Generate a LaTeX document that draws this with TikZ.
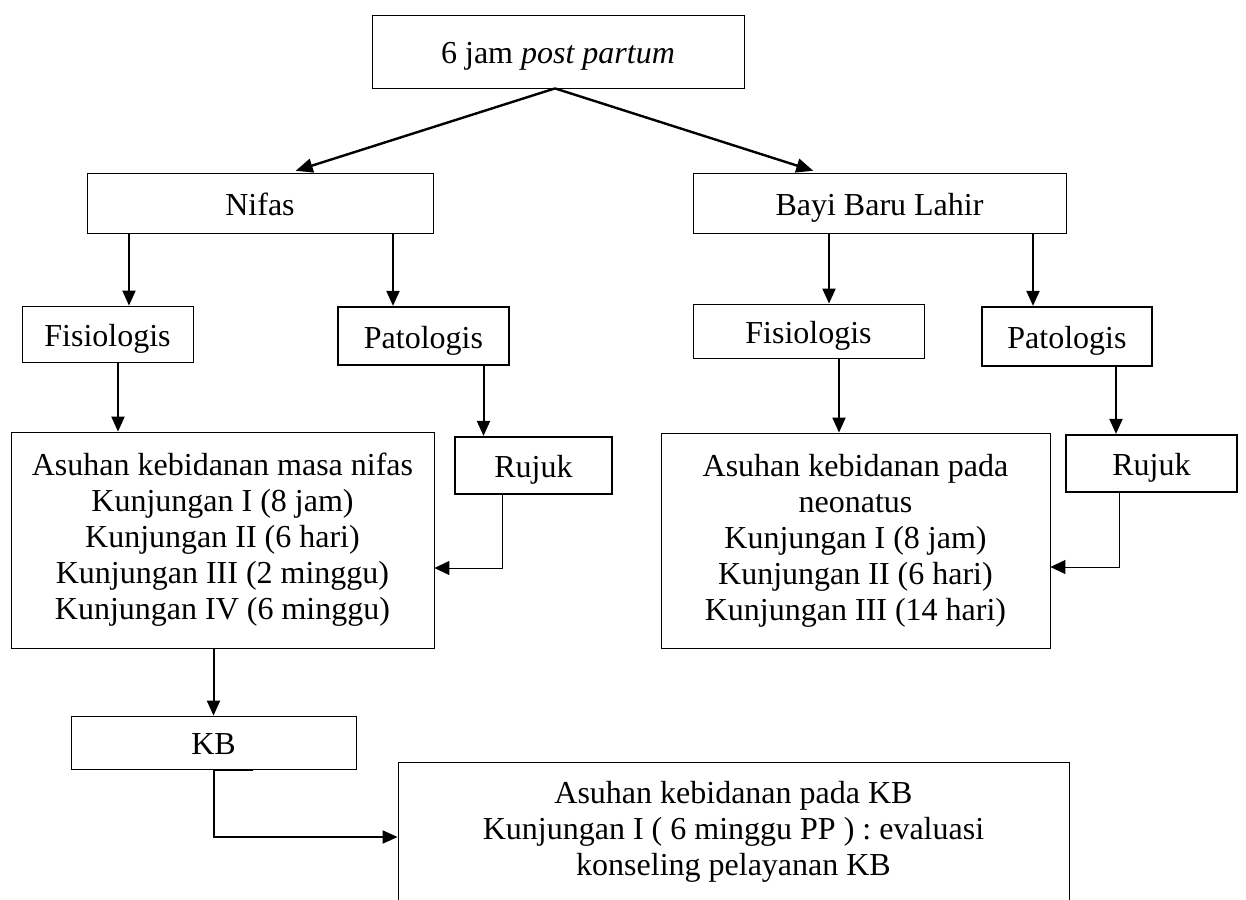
\documentclass[tikz,border=0pt]{standalone}
\usepackage{fontspec}
\setmainfont{Liberation Serif}
\usetikzlibrary{arrows.meta}
\tikzset{
	box/.style={draw, line width=0.8pt, inner sep=0pt, align=center, font=\fontsize{32}{36}\selectfont},
	oneline/.style={text height=26pt, text depth=2pt},
	boldbox/.style={box, line width=2.2pt},
	diag/.style={-{Triangle[length=17pt,width=14pt]}, line width=2.4pt, shorten >=6pt},
	arr/.style={-{Triangle[length=15pt,width=13pt]}, line width=2pt},
	thinarr/.style={-{Triangle[length=15pt,width=14pt]}, line width=1pt}
}
\begin{document}
\begin{tikzpicture}[x=10pt,y=10pt]
		\path [use as bounding box, clip] (0,0) rectangle (124.6,-90);
		% boxes
		\node [box, oneline, minimum width=372pt, minimum height=73pt] (top) at (55.8,-5.15) {6 jam \textit{post partum}};
		\node [box, oneline, minimum width=346pt, minimum height=60pt] (nifas) at (26.0,-20.3) {Nifas};
		\node [box, oneline, minimum width=373pt, minimum height=60pt] (bayi) at (87.95,-20.3) {Bayi Baru Lahir};
		\node [box, oneline, minimum width=171pt, minimum height=56pt] (fis1) at (10.75,-33.4) {Fisiologis};
		\node [boldbox, oneline, minimum width=171pt, minimum height=58pt] (pat1) at (42.35,-33.6) {Patologis};
		\node [box, oneline, minimum width=231pt, minimum height=54pt] (fis2) at (80.85,-33.1) {Fisiologis};
		\node [boldbox, oneline, minimum width=170pt, minimum height=59pt] (pat2) at (106.7,-33.65) {Patologis};
		\node [box, minimum width=423pt, minimum height=216pt] (asuh1) at (22.25,-54.0) {Asuhan kebidanan masa nifas\\Kunjungan I (8 jam)\\Kunjungan II (6 hari)\\Kunjungan III (2 minggu)\\Kunjungan IV (6 minggu)};
		\node [boldbox, oneline, minimum width=157pt, minimum height=57pt] (rujuk1) at (53.35,-46.55) {Rujuk};
		\node [box, minimum width=389pt, minimum height=215pt] (asuh2) at (85.55,-54.05) {Asuhan kebidanan pada\\neonatus\\Kunjungan I (8 jam)\\Kunjungan II (6 hari)\\Kunjungan III (14 hari)};
		\node [boldbox, oneline, minimum width=171pt, minimum height=57pt] (rujuk2) at (115.15,-46.35) {Rujuk};
		\node [box, oneline, minimum width=285pt, minimum height=53pt] (kb) at (21.35,-74.25) {KB};
		\node [box, minimum width=671pt, minimum height=140pt] (kbcare) at (73.35,-83.2) {Asuhan kebidanan pada KB\\Kunjungan I ( 6 minggu PP ) : evaluasi\\konseling pelayanan KB};
		% connectors
		\draw [diag] ([xshift=-3pt]top.south) -- ([xshift=30pt]nifas.north);
		\draw [diag] ([xshift=-3pt]top.south) -- ([xshift=-60.5pt]bayi.north);
		\draw [arr] ([xshift=21.5pt]fis1.north |- nifas.south) -- ([xshift=21.5pt]fis1.north);
		\draw [arr] ([xshift=-30.5pt]pat1.north |- nifas.south) -- ([xshift=-30.5pt]pat1.north);
		\draw [arr] ([xshift=20.5pt]fis2.north |- bayi.south) -- ([xshift=20.5pt]fis2.north);
		\draw [arr] ([xshift=-34pt]pat2.north |- bayi.south) -- ([xshift=-34pt]pat2.north);
		\draw [arr] ([xshift=10.5pt]fis1.south) -- ([xshift=10.5pt]fis1.south |- asuh1.north);
		\draw [arr] ([xshift=60pt]pat1.south) -- ([xshift=60pt]pat1.south |- rujuk1.north);
		\draw [arr] ([xshift=30.5pt]fis2.south) -- ([xshift=30.5pt]fis2.south |- asuh2.north);
		\draw [arr] ([xshift=49pt]pat2.south) -- ([xshift=49pt]pat2.south |- rujuk2.north);
		\draw [thinarr] ([xshift=-31.5pt]rujuk1.south) |- ([yshift=-28pt]asuh1.east);
		\draw [thinarr] ([xshift=-32.5pt]rujuk2.south) |- ([yshift=-26.5pt]asuh2.east);
		\draw [arr] (kb.north |- asuh1.south) -- (kb.north);
		\draw [arr] (kb.south) |- ([yshift=-5pt]kbcare.west);
		\draw [line width=1.6pt] ([yshift=-0.8pt]kb.south) -- ++(3.9,0);
\end{tikzpicture}
\end{document}
